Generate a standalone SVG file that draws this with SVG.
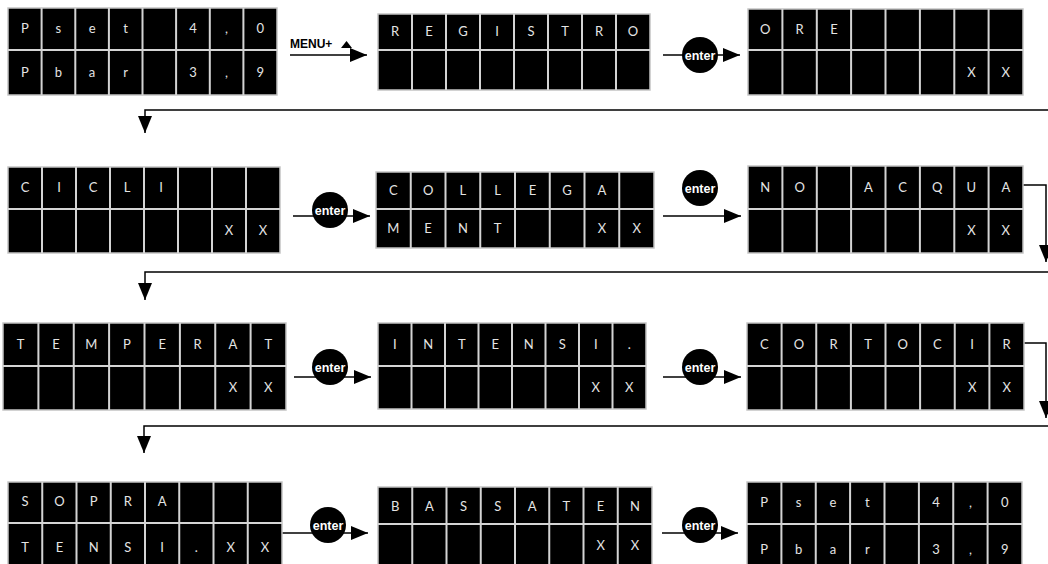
<svg xmlns="http://www.w3.org/2000/svg" width="1048" height="564" viewBox="0 0 1048 564">
<style>
.bg{fill:#000;stroke:#c4c4c4;stroke-width:1.5}
.grid{stroke:#d4d4d4;stroke-width:2;fill:none}
.c{font-family:"Lato","Liberation Sans",sans-serif;font-weight:normal;font-size:13px;fill:#e4e4e4;text-anchor:middle}
.ln{stroke:#000;stroke-width:1.5;fill:none}
.en{fill:#000}
.et{font-family:"Liberation Sans",Arial,sans-serif;font-weight:bold;font-size:12.5px;fill:#fff;text-anchor:middle}
.mt{font-family:"Liberation Sans",Arial,sans-serif;font-weight:bold;font-size:12px;fill:#000}
</style>
<defs>
<marker id="ah" markerUnits="userSpaceOnUse" markerWidth="17" markerHeight="14" refX="17" refY="7" orient="auto">
<path d="M0,0 L17,7 L0,14 z" fill="#000"/>
</marker>
</defs>
<rect width="1048" height="564" fill="#fff"/>

<g id="connectors">
<path class="ln" d="M290,55 H367" marker-end="url(#ah)"/>
<text class="mt" x="290" y="48">MENU+</text>
<polygon points="341,48 352,48 346.5,41" fill="#000"/>
<path class="ln" d="M663,55 H740" marker-end="url(#ah)"/>
<path class="ln" d="M1048,110 H145 V133" marker-end="url(#ah)"/>
<path class="ln" d="M293,216 H370" marker-end="url(#ah)"/>
<path class="ln" d="M663,216 H741" marker-end="url(#ah)"/>
<path class="ln" d="M1023,185 H1046 V262" marker-end="url(#ah)"/>
<path class="ln" d="M1048,272 H145 V300" marker-end="url(#ah)"/>
<path class="ln" d="M294,377 H371" marker-end="url(#ah)"/>
<path class="ln" d="M663,377 H741" marker-end="url(#ah)"/>
<path class="ln" d="M1024,343 H1046 V418" marker-end="url(#ah)"/>
<path class="ln" d="M1048,426 H144 V453" marker-end="url(#ah)"/>
<path class="ln" d="M282,533 H368" marker-end="url(#ah)"/>
<path class="ln" d="M662,533 H738" marker-end="url(#ah)"/>
<g>
<circle class="en" cx="700" cy="55" r="18"/><text class="et" x="700" y="59.5">enter</text>
<circle class="en" cx="330" cy="210" r="18"/><text class="et" x="330" y="214.5">enter</text>
<circle class="en" cx="700" cy="188" r="18"/><text class="et" x="700" y="192.5">enter</text>
<circle class="en" cx="330" cy="367" r="18"/><text class="et" x="330" y="371.5">enter</text>
<circle class="en" cx="700" cy="367" r="18"/><text class="et" x="700" y="371.5">enter</text>
<circle class="en" cx="328" cy="525" r="18"/><text class="et" x="328" y="529.5">enter</text>
<circle class="en" cx="700" cy="525" r="18"/><text class="et" x="700" y="529.5">enter</text>
</g>
</g>

<g id="pset1">
<rect class="bg" x="8" y="8" width="269" height="87"/>
<path class="grid" d="M8,50 H277 M41.6,8 V95 M75.3,8 V95 M108.9,8 V95 M142.5,8 V95 M176.1,8 V95 M209.8,8 V95 M243.4,8 V95"/>
<text class="c" x="24.8" y="33">P</text><text class="c" x="58.4" y="33">s</text><text class="c" x="92.1" y="33">e</text><text class="c" x="125.7" y="33">t</text><text class="c" x="193" y="33">4</text><text class="c" x="226.6" y="33">,</text><text class="c" x="260.2" y="33">0</text>
<text class="c" x="24.8" y="77">P</text><text class="c" x="58.4" y="77">b</text><text class="c" x="92.1" y="77">a</text><text class="c" x="125.7" y="77">r</text><text class="c" x="193" y="77">3</text><text class="c" x="226.6" y="77">,</text><text class="c" x="260.2" y="77">9</text>
</g>

<g id="registro">
<rect class="bg" x="378" y="14" width="272" height="76"/>
<path class="grid" d="M378,50 H650 M412,14 V90 M446,14 V90 M480,14 V90 M514,14 V90 M548,14 V90 M582,14 V90 M616,14 V90"/>
<text class="c" x="395" y="36">R</text><text class="c" x="429" y="36">E</text><text class="c" x="463" y="36">G</text><text class="c" x="497" y="36">I</text><text class="c" x="531" y="36">S</text><text class="c" x="565" y="36">T</text><text class="c" x="599" y="36">R</text><text class="c" x="633" y="36">O</text>
</g>

<g id="ore">
<rect class="bg" x="748" y="9" width="275" height="86"/>
<path class="grid" d="M748,50 H1023 M782.4,9 V95 M816.8,9 V95 M851.1,9 V95 M885.5,9 V95 M919.9,9 V95 M954.3,9 V95 M988.6,9 V95"/>
<text class="c" x="765.2" y="34">O</text><text class="c" x="799.6" y="34">R</text><text class="c" x="833.9" y="34">E</text>
<text class="c" x="971.4" y="77">X</text><text class="c" x="1005.8" y="77">X</text>
</g>

<g id="cicli">
<rect class="bg" x="8" y="167" width="272" height="86"/>
<path class="grid" d="M8,209 H280 M42,167 V253 M76,167 V253 M110,167 V253 M144,167 V253 M178,167 V253 M212,167 V253 M246,167 V253"/>
<text class="c" x="25" y="192">C</text><text class="c" x="59" y="192">I</text><text class="c" x="93" y="192">C</text><text class="c" x="127" y="192">L</text><text class="c" x="161" y="192">I</text>
<text class="c" x="229" y="235">X</text><text class="c" x="263" y="235">X</text>
</g>

<g id="collegament">
<rect class="bg" x="376" y="172" width="278" height="76"/>
<path class="grid" d="M376,209 H654 M410.75,172 V248 M445.5,172 V248 M480.25,172 V248 M515,172 V248 M549.75,172 V248 M584.5,172 V248 M619.25,172 V248"/>
<text class="c" x="393.4" y="195">C</text><text class="c" x="428.1" y="195">O</text><text class="c" x="462.9" y="195">L</text><text class="c" x="497.6" y="195">L</text><text class="c" x="532.4" y="195">E</text><text class="c" x="567.1" y="195">G</text><text class="c" x="601.9" y="195">A</text>
<text class="c" x="393.4" y="233">M</text><text class="c" x="428.1" y="233">E</text><text class="c" x="462.9" y="233">N</text><text class="c" x="497.6" y="233">T</text><text class="c" x="601.9" y="233">X</text><text class="c" x="636.6" y="233">X</text>
</g>

<g id="noacqua">
<rect class="bg" x="748" y="166" width="275" height="87"/>
<path class="grid" d="M748,209 H1023 M782.4,166 V253 M816.8,166 V253 M851.1,166 V253 M885.5,166 V253 M919.9,166 V253 M954.3,166 V253 M988.6,166 V253"/>
<text class="c" x="765.2" y="192">N</text><text class="c" x="799.6" y="192">O</text><text class="c" x="868.3" y="192">A</text><text class="c" x="902.7" y="192">C</text><text class="c" x="937.1" y="192">Q</text><text class="c" x="971.4" y="192">U</text><text class="c" x="1005.8" y="192">A</text>
<text class="c" x="971.4" y="235">X</text><text class="c" x="1005.8" y="235">X</text>
</g>

<g id="temperat">
<rect class="bg" x="3" y="323" width="283" height="87"/>
<path class="grid" d="M3,366 H286 M38.4,323 V410 M73.75,323 V410 M109.1,323 V410 M144.5,323 V410 M179.9,323 V410 M215.25,323 V410 M250.6,323 V410"/>
<text class="c" x="20.7" y="349">T</text><text class="c" x="56.1" y="349">E</text><text class="c" x="91.4" y="349">M</text><text class="c" x="126.8" y="349">P</text><text class="c" x="162.2" y="349">E</text><text class="c" x="197.6" y="349">R</text><text class="c" x="232.9" y="349">A</text><text class="c" x="268.3" y="349">T</text>
<text class="c" x="232.9" y="392">X</text><text class="c" x="268.3" y="392">X</text>
</g>

<g id="intensi">
<rect class="bg" x="378" y="323" width="268" height="86"/>
<path class="grid" d="M378,366 H646 M411.5,323 V409 M445,323 V409 M478.5,323 V409 M512,323 V409 M545.5,323 V409 M579,323 V409 M612.5,323 V409"/>
<text class="c" x="394.75" y="349">I</text><text class="c" x="428.25" y="349">N</text><text class="c" x="461.75" y="349">T</text><text class="c" x="495.25" y="349">E</text><text class="c" x="528.75" y="349">N</text><text class="c" x="562.25" y="349">S</text><text class="c" x="595.75" y="349">I</text><text class="c" x="629.25" y="349">.</text>
<text class="c" x="595.75" y="392">X</text><text class="c" x="629.25" y="392">X</text>
</g>

<g id="cortocir">
<rect class="bg" x="747" y="323" width="277" height="87"/>
<path class="grid" d="M747,366 H1024 M781.6,323 V410 M816.25,323 V410 M850.9,323 V410 M885.5,323 V410 M920.1,323 V410 M954.75,323 V410 M989.4,323 V410"/>
<text class="c" x="764.3" y="349">C</text><text class="c" x="798.9" y="349">O</text><text class="c" x="833.6" y="349">R</text><text class="c" x="868.2" y="349">T</text><text class="c" x="902.8" y="349">O</text><text class="c" x="937.4" y="349">C</text><text class="c" x="972.1" y="349">I</text><text class="c" x="1006.7" y="349">R</text>
<text class="c" x="972.1" y="392">X</text><text class="c" x="1006.7" y="392">X</text>
</g>

<g id="sopratensi">
<rect class="bg" x="8" y="482" width="274" height="84"/>
<path class="grid" d="M8,523 H282 M42.25,482 V566 M76.5,482 V566 M110.75,482 V566 M145,482 V566 M179.25,482 V566 M213.5,482 V566 M247.75,482 V566"/>
<text class="c" x="25.1" y="506">S</text><text class="c" x="59.4" y="506">O</text><text class="c" x="93.6" y="506">P</text><text class="c" x="127.9" y="506">R</text><text class="c" x="162.1" y="506">A</text>
<text class="c" x="25.1" y="552">T</text><text class="c" x="59.4" y="552">E</text><text class="c" x="93.6" y="552">N</text><text class="c" x="127.9" y="552">S</text><text class="c" x="162.1" y="552">I</text><text class="c" x="196.4" y="552">.</text><text class="c" x="230.6" y="552">X</text><text class="c" x="264.9" y="552">X</text>
</g>

<g id="bassaten">
<rect class="bg" x="378" y="487" width="274" height="79"/>
<path class="grid" d="M378,524 H652 M412.25,487 V566 M446.5,487 V566 M480.75,487 V566 M515,487 V566 M549.25,487 V566 M583.5,487 V566 M617.75,487 V566"/>
<text class="c" x="395.1" y="511">B</text><text class="c" x="429.4" y="511">A</text><text class="c" x="463.6" y="511">S</text><text class="c" x="497.9" y="511">S</text><text class="c" x="532.1" y="511">A</text><text class="c" x="566.4" y="511">T</text><text class="c" x="600.6" y="511">E</text><text class="c" x="634.9" y="511">N</text>
<text class="c" x="600.6" y="550">X</text><text class="c" x="634.9" y="550">X</text>
</g>

<g id="pset2">
<rect class="bg" x="747" y="482" width="275" height="84"/>
<path class="grid" d="M747,524 H1022 M781.4,482 V566 M815.75,482 V566 M850.1,482 V566 M884.5,482 V566 M918.9,482 V566 M953.25,482 V566 M987.6,482 V566"/>
<text class="c" x="764.2" y="507">P</text><text class="c" x="798.6" y="507">s</text><text class="c" x="832.9" y="507">e</text><text class="c" x="867.3" y="507">t</text><text class="c" x="936.1" y="507">4</text><text class="c" x="970.4" y="507">,</text><text class="c" x="1004.8" y="507">0</text>
<text class="c" x="764.2" y="554">P</text><text class="c" x="798.6" y="554">b</text><text class="c" x="832.9" y="554">a</text><text class="c" x="867.3" y="554">r</text><text class="c" x="936.1" y="554">3</text><text class="c" x="970.4" y="554">,</text><text class="c" x="1004.8" y="554">9</text>
</g>
</svg>
